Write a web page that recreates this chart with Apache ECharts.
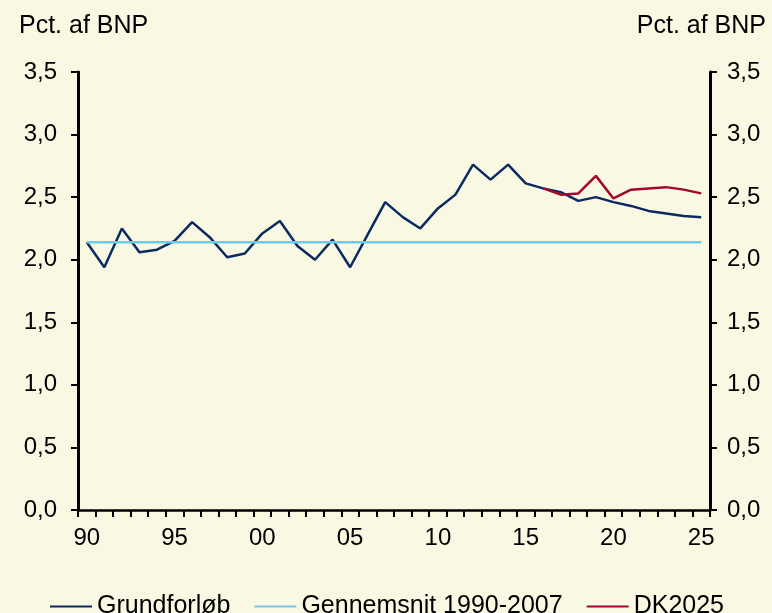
<!DOCTYPE html>
<html>
<head>
	<meta charset="UTF-8">
	<title>Pct. af BNP</title>
	<script src="https://cdn.jsdelivr.net/npm/echarts@6/dist/echarts.min.js"></script>
	<style>
		html, body { margin:0; padding:0; background:#f9f8e2; }
		#chart { width:772px; height:613px; }
	</style>
</head>
<body>
<div id="chart"></div>

<script type="text/javascript">
	// data
	var years = [];
	for (var y = 1990; y <= 2025; y++) years.push(String(y));

	var grundforlob = [2.14, 1.94, 2.25, 2.06, 2.08, 2.15, 2.30, 2.18, 2.02, 2.05,
		2.21, 2.31, 2.11, 2.00, 2.16, 1.94, 2.20, 2.46, 2.34, 2.25,
		2.41, 2.52, 2.76, 2.64, 2.76, 2.61, 2.57, 2.54, 2.47, 2.50,
		2.46, 2.43, 2.39, 2.37, 2.35, 2.34];

	var gennemsnitValue = 2.14;
	var gennemsnit = years.map(function() { return gennemsnitValue; });

	var dk2025 = [null, null, null, null, null, null, null, null, null, null,
		null, null, null, null, null, null, null, null, null, null,
		null, null, null, null, null, null, 2.57, 2.52, 2.53, 2.67,
		2.49, 2.56, 2.57, 2.58, 2.56, 2.53];

	var chart = echarts.init(document.getElementById('chart'));

	var font = 'Liberation Sans, Arial, sans-serif';
	function commaLabel(v) { return v.toFixed(1).replace('.', ','); }

	function yAxisCfg(pos, margin)
	{
		return {
			type:'value',
			position:pos,
			min:0,
			max:3.5,
			interval:0.5,
			axisLine:{ show:true, lineStyle:{ color:'#000', width:3 } },
			axisTick:{ show:true, length:7, lineStyle:{ color:'#000', width:2 } },
			splitLine:{ show:false },
			axisLabel:{ color:'#000', fontSize:24, fontFamily:font, margin:margin, formatter:commaLabel }
		};
	}

	var option =
	{
		backgroundColor:'#f9f8e2',
		animation:false,
		title: [
			{ text:'Pct. af BNP', left:19, top:14, padding:0, textStyle:{ fontSize:25, fontWeight:'normal', color:'#000', fontFamily:font } },
			{ text:'Pct. af BNP', right:6, top:14, padding:0, textStyle:{ fontSize:25, fontWeight:'normal', color:'#000', fontFamily:font } }
		],
		grid: {
			left:78,
			right:62,
			top:72,
			bottom:103
		},
		legend: {
			left:50,
			top:594,
			padding:0,
			icon:'rect',
			itemWidth:42,
			itemHeight:2,
			itemGap:24,
			textStyle:{ fontSize:25, color:'#000', fontFamily:font }
		},
		xAxis: {
			type:'category',
			data:years,
			boundaryGap:true,
			axisLine:{ show:true, lineStyle:{ color:'#000', width:2.5 } },
			axisTick:{ show:true, interval:0, length:7, lineStyle:{ color:'#000', width:2 } },
			axisLabel:{
				interval:4,
				color:'#000',
				fontSize:24,
				fontFamily:font,
				margin:16,
				formatter:function(v) { return v.slice(2); }
			}
		},
		yAxis: [ yAxisCfg('left', 21), yAxisCfg('right', 17) ],
		series: [
			{
				name:'Grundforløb',
				type:'line',
				data:grundforlob,
				symbol:'none',
				lineStyle:{ color:'#0b2a62', width:2.5 },
				itemStyle:{ color:'#0b2a62' }
			},
			{
				name:'Gennemsnit 1990-2007',
				type:'line',
				data:gennemsnit,
				symbol:'none',
				lineStyle:{ color:'#74c8e6', width:2.5 },
				itemStyle:{ color:'#74c8e6' }
			},
			{
				name:'DK2025',
				type:'line',
				data:dk2025,
				symbol:'none',
				lineStyle:{ color:'#a3062e', width:2.5 },
				itemStyle:{ color:'#a3062e' }
			}
		]
	};
	chart.setOption(option);
</script>
</body>
</html>
